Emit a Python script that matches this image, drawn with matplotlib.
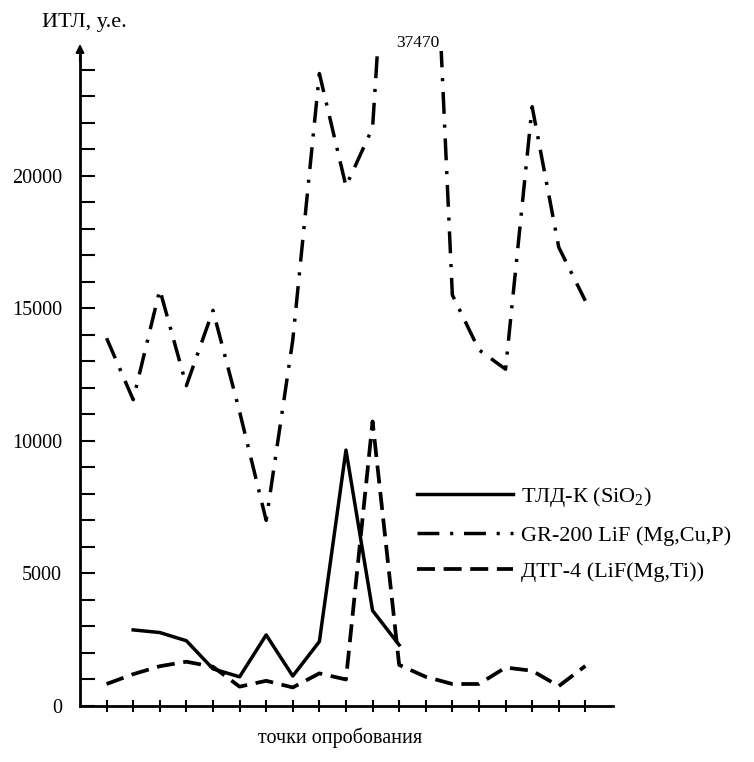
import matplotlib.pyplot as plt

plt.rcParams['font.family'] = ['Liberation Serif', 'DejaVu Serif']
plt.rcParams['mathtext.fontset'] = 'custom'
plt.rcParams['mathtext.rm'] = 'Liberation Serif'
plt.rcParams['mathtext.default'] = 'regular'

# точки опробования
points = list(range(1, 20))

# ТЛД-К (SiO2), точки 2..12
tld_x = list(range(2, 13))
tld = [2870, 2770, 2460, 1400, 1100, 2680, 1130, 2430, 9650, 3600, 2300]

# GR-200 LiF (Mg,Cu,P)
gr = [13870, 11550, 15700, 12080, 14920, 11100, 7000, 13800, 23850, 19600,
      21800, 37470, 37470, 15500, 13430, 12700, 22600, 17300, 15280]

# ДТГ-4 (LiF(Mg,Ti))
dtg = [830, 1200, 1500, 1670, 1480, 730, 950, 700, 1230, 1000,
       10730, 1550, 1100, 830, 830, 1450, 1330, 750, 1510]

peak_label = '37470'
y_ticks = list(range(0, 25000, 1000))
y_labels = [str(v) if v % 5000 == 0 else '' for v in y_ticks]

fig = plt.figure(figsize=(7.54, 7.62), dpi=100)
ax = fig.add_axes([80 / 754, 1 - 706 / 762, 533 / 754, (706 - 51) / 762])

ax.plot(tld_x, tld, color='black', lw=2.5, linestyle='-', label='ТЛД-К (SiO$_2$)')
ax.plot(points, gr, color='black', lw=2.5, linestyle=(0, (6.3, 3.1, 0.9, 3.1)),
        label='GR-200 LiF (Mg,Cu,P)')
ax.plot(points, dtg, color='black', lw=2.7, linestyle=(0, (4.8, 2.3)),
        label='ДТГ-4 (LiF(Mg,Ti))')

ax.set_xlim(0, 20.04)
ax.set_ylim(0, 24700)

for s in ['top', 'right']:
    ax.spines[s].set_visible(False)
ax.spines['left'].set_linewidth(2)
ax.spines['bottom'].set_linewidth(2)

ax.set_yticks(y_ticks)
ax.set_yticklabels(y_labels)
ax.tick_params(axis='y', direction='in', length=11, width=1.5, labelsize=14.5, pad=13)
ax.set_xticks(points)
ax.set_xticklabels([])
ax.tick_params(axis='x', direction='inout', length=9, width=1.5)

# стрелка оси
ax.annotate('', xy=(0, 1.015), xytext=(0, 0.98), xycoords='axes fraction',
            arrowprops=dict(arrowstyle='-|>', color='black', lw=1.5, mutation_scale=12))

ax.text(12.7, 1.0, peak_label, transform=ax.get_xaxis_transform(),
        ha='center', va='bottom', fontsize=12.5)

fig.text(42 / 754, 1 - 23 / 762, 'ИТЛ, у.е.', fontsize=16, va='center', ha='left')
fig.text(340 / 754, 1 - 738 / 762, 'точки опробования', fontsize=14.5,
         va='center', ha='center')

ax.legend(loc='upper left', bbox_to_anchor=(417 / 754, 1 - 485 / 762),
          bbox_transform=fig.transFigure, frameon=False, fontsize=16,
          handlelength=4.3, handletextpad=0.38, labelspacing=0.72, borderpad=0,
          borderaxespad=0)

plt.savefig('out.png', dpi=100)
